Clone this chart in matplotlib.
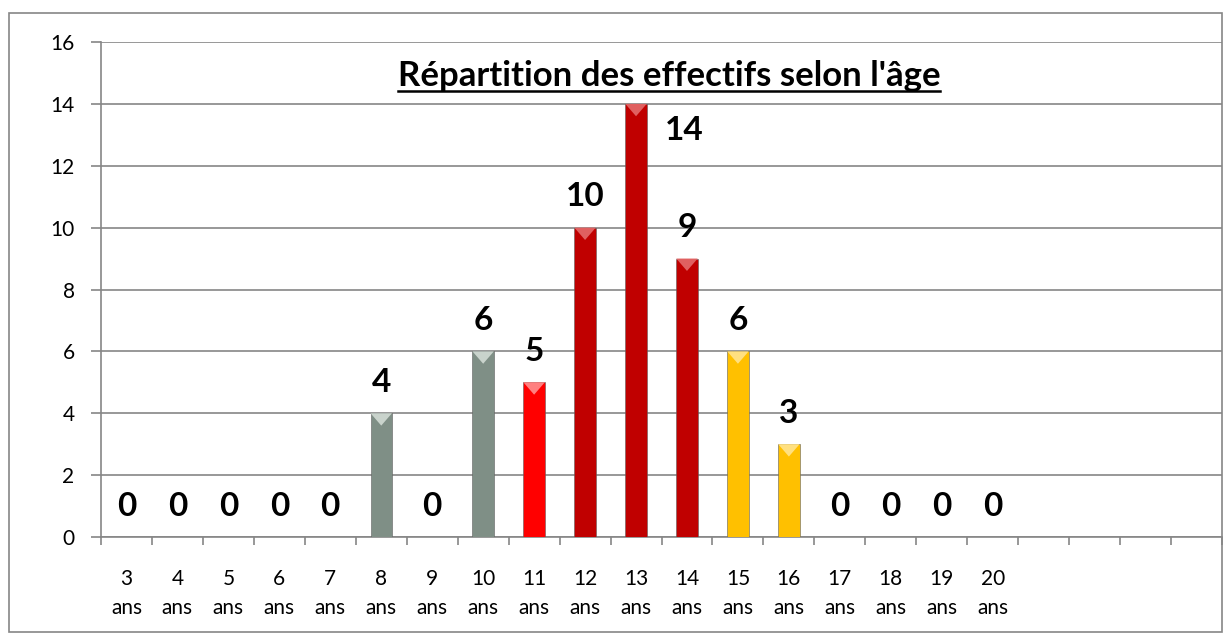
import numpy as np
import matplotlib
matplotlib.use("Agg")
from matplotlib import pyplot as plt
from matplotlib.patches import Rectangle

# donnees
ages = ["3", "4", "5", "6", "7", "8", "9", "10", "11", "12",
        "13", "14", "15", "16", "17", "18", "19", "20"]
effectifs = [0, 0, 0, 0, 0, 4, 0, 6, 5, 10, 14, 9, 6, 3, 0, 0, 0, 0]
n_slots = 22                                   # 4 emplacements vides a droite
couleurs = ["#7f8f86"] * 8 + ["#ff0000"] + ["#c00000"] * 3 + ["#ffc000"] * 6
reflets = ["#c9d3cc"] * 8 + ["#ff8080"] + ["#e06060"] * 3 + ["#ffe080"] * 6
titre = "Répartition des effectifs selon l'âge"

plt.rcParams['font.family'] = ['Lato', 'DejaVu Sans']

fig = plt.figure(figsize=(12.25, 6.33), dpi=100)
ax = fig.add_axes([101/1225, 96/633, 1121/1225, 495/633])

x = np.arange(len(ages))
w = 0.42
for i, v in enumerate(effectifs):
    if v > 0:
        ax.bar(x[i], v, width=w, color=couleurs[i], edgecolor="#606060", linewidth=0.4, zorder=3)
        # petit biseau clair en haut de la barre
        ax.fill([x[i] - w/2, x[i] + w/2, x[i]], [v, v, v - 0.4], color=reflets[i], zorder=4, lw=0)

# etiquettes de donnees
for i, v in enumerate(effectifs):
    if v == 14:
        ax.text(x[i] + 0.95, v - 0.85, str(v), ha="center", va="center",
                fontsize=24, fontweight="bold", zorder=5)
    else:
        ax.text(x[i], v + 1.0, str(v), ha="center", va="center",
                fontsize=24, fontweight="bold", zorder=5)

ax.set_xlim(-0.5, n_slots - 0.5)
ax.set_ylim(0, 16)
ax.set_yticks(np.arange(0, 17, 2))
ax.yaxis.grid(True, color="#868686", linewidth=1.2, zorder=0)
ax.set_axisbelow(True)

ax.set_xticks(np.arange(-0.5, n_slots, 1))
ax.set_xticklabels([])
ax.tick_params(axis="x", length=6, color="#868686", width=1.2)
ax.tick_params(axis="y", length=7, color="#868686", width=1.2, labelsize=15, pad=12)
for i, a in enumerate(ages):
    ax.text(x[i], -1.05, a + "\nans", ha="center", va="top", fontsize=15, linespacing=1.55)

for s in ["top", "right"]:
    ax.spines[s].set_visible(False)
ax.spines["left"].set_color("#868686")
ax.spines["bottom"].set_color("#868686")
ax.spines["left"].set_linewidth(1.2)
ax.spines["bottom"].set_linewidth(1.2)

ax.text(10.65, 14.9, titre, ha="center", va="center", fontsize=25, fontweight="bold")
# souligne
t = ax.texts[-1]
fig.canvas.draw()
bb = t.get_window_extent()
fig.add_artist(plt.Line2D([bb.x0, bb.x1], [bb.y0 + 1, bb.y0 + 1], transform=None, color="black", linewidth=1.8))

fig.add_artist(Rectangle((9/1225, 1/633), 1213/1225, 619/633, fill=False,
                         edgecolor="#868686", linewidth=1.2, transform=fig.transFigure))

fig.savefig("out.png", dpi=100)
